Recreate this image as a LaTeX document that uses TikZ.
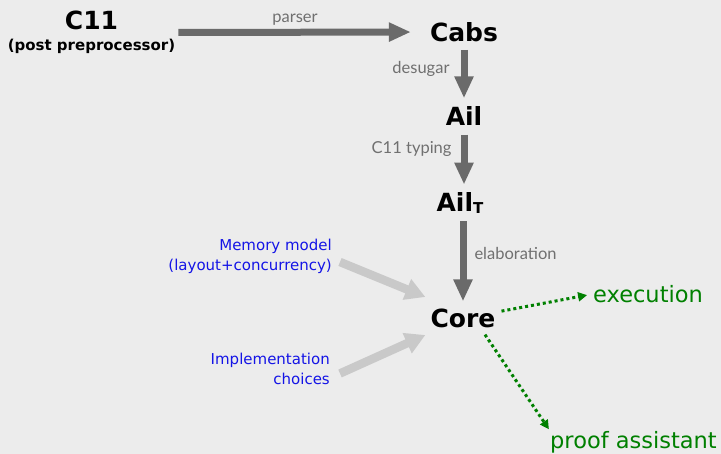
\documentclass[tikz,border=0pt]{standalone}
\usepackage{fontspec}
\setmainfont{DejaVu Sans}
\newfontfamily\gillfont{Lato}
\usetikzlibrary{arrows.meta,calc}
\definecolor{bgc}{RGB}{236,236,236}
\definecolor{darkarrow}{RGB}{106,106,106}
\definecolor{lightarrow}{RGB}{201,201,201}
\definecolor{lblgray}{RGB}{112,112,112}
\definecolor{bluetxt}{RGB}{20,20,230}
\definecolor{greentxt}{RGB}{0,128,0}
\tikzset{
  title/.style={font=\bfseries\fontsize{25}{28}\selectfont, inner sep=0pt, text=black},
  bigarrow/.style={draw=darkarrow, line width=7pt, -{Triangle[length=22pt,width=18pt]}},
  lightarr/.style={draw=lightarrow, line width=8.5pt, -{Triangle[length=20pt,width=21pt]}},
  greenarr/.style={draw=greentxt, line width=3pt, dash pattern=on 3pt off 3pt, -{Triangle[length=9pt,width=9pt]}},
  lbl/.style={font=\gillfont\fontsize{16.5}{18}\selectfont, text=lblgray, inner sep=0pt},
  bluelbl/.style={font=\fontsize{15}{20}\selectfont, text=bluetxt, align=right, inner sep=0pt},
  greenlbl/.style={font=\fontsize{22.5}{25}\selectfont, text=greentxt, inner sep=0pt}
}
\begin{document}
\begin{tikzpicture}[x=1pt,y=-1pt]
\fill[bgc] (0,0) rectangle (721,454);
\useasboundingbox (0,0) rectangle (721,454);

\node[inner sep=0pt, align=center, font=\bfseries\fontsize{15}{17}\selectfont] (c11) at (91.5,32.5)
  {{\fontsize{25}{25}\selectfont C11}\\[4pt](post preprocessor)};
\node[title] (cabs) at (464,32) {Cabs};
\node[title] (ail) at (464,116) {Ail};
\node[title] (ailt) at (460,203) {Ail{\fontsize{15}{15}\selectfont\raisebox{-1.5pt}{T}}};
\node[title] (core) at (463,318) {Core};

\node[bluelbl, anchor=east] (mem) at (332,256) {Memory model\\(layout+concurrency)};
\node[bluelbl, anchor=east] (impl) at (330,368.5) {Implementation\\choices};
\node[greenlbl, anchor=west] (exec) at (593,294) {execution};
\node[greenlbl, anchor=west] (proof) at (550,442) {proof assistant};

\draw[bigarrow, shorten <=3pt, shorten >=19pt] (c11.east) -- (cabs.west)
  node[lbl, pos=0.47, above=3pt] {parser};
\draw[bigarrow, shorten <=8pt, shorten >=8pt] (cabs.south) -- (ail.north)
  node[lbl, pos=0.42, left=11pt] {desugar};
\draw[bigarrow, shorten <=9pt, shorten >=8pt] (ail.south) -- (ailt.north -| ail.south)
  node[lbl, pos=0.35, left=9pt] {C11 typing};
\draw[bigarrow, shorten <=8pt, shorten >=7pt] (ailt.south -| core.north) -- (core.north)
  node[lbl, pos=0.42, right=8pt] {elaboration};

\draw[lightarr] ($(mem.east)+(8,6)$) -- ($(core.west)+(-5,-21)$);
\draw[lightarr] ($(impl.east)+(10,5)$) -- ($(core.west)+(-5,17)$);

\draw[greenarr, shorten <=6pt, shorten >=6pt] (core.10) -- (exec.west);
\draw[greenarr, shorten >=2pt] ($(core.south)+(22,7)$) -- (proof.north west);
\end{tikzpicture}
\end{document}
